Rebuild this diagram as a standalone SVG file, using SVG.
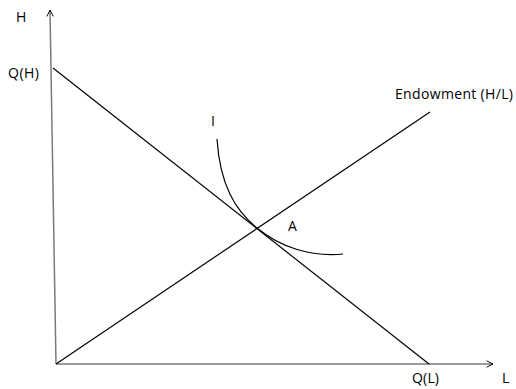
<svg xmlns="http://www.w3.org/2000/svg" width="516" height="389" viewBox="0 0 516 389">
<style>
text{font-family:"Open Sans","Liberation Sans",sans-serif;font-size:14px;fill:#000}
.axis{stroke:#7a7a7a;stroke-width:1.5;fill:none}
.ln{stroke:#000;stroke-width:1.2;fill:none}
</style>
<defs>
<marker id="arr" viewBox="0 0 10 10" refX="9" refY="5" markerWidth="8" markerHeight="8" markerUnits="userSpaceOnUse" orient="auto">
<path d="M1,1 L9,5 L1,9" fill="none" stroke="#000" stroke-width="1.2"/>
</marker>
</defs>
<rect width="516" height="389" fill="#fff"/>
<g id="connectors">
<path class="axis" d="M56,364 L50,10" marker-end="url(#arr)"/>
<path class="axis" d="M56,364 L493,364" marker-end="url(#arr)"/>
<path id="budget" class="ln" d="M53,68 L429,364"/>
<path id="endowment" class="ln" d="M56,364 L430,112"/>
<path id="indiff" class="ln" d="M217,139 C220,185 235,210 257,228 C280,247 310,257 343,254"/>
</g>
<g id="labels">
<text id="lblH" x="16" y="22">H</text>
<text id="lblQH" x="8" y="78" textLength="31">Q(H)</text>
<text id="lblI" x="211" y="126">I</text>
<text id="lblA" x="288" y="231">A</text>
<text id="lblEnd" x="395" y="99" textLength="118">Endowment (H/L)</text>
<text id="lblQL" x="412" y="383" textLength="27">Q(L)</text>
<text id="lblL" x="502" y="383">L</text>
</g>
</svg>
